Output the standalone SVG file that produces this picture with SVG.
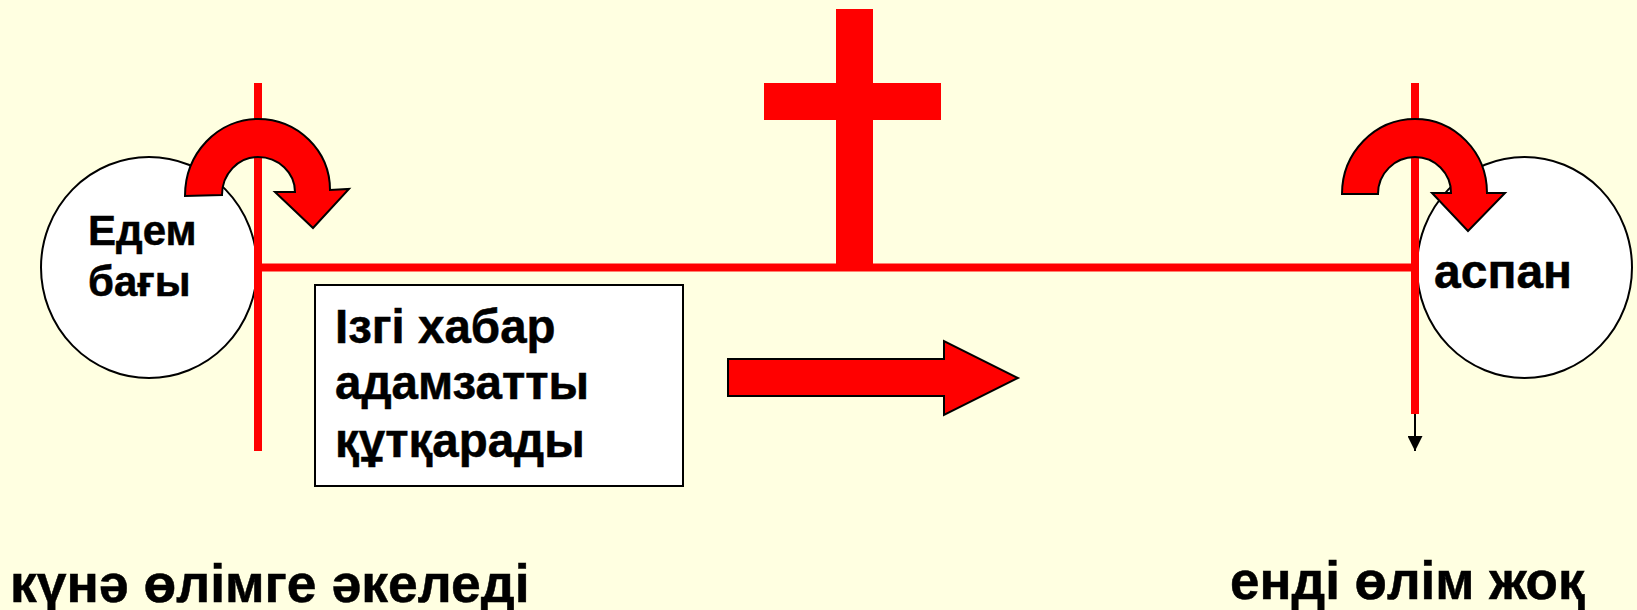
<svg xmlns="http://www.w3.org/2000/svg" width="1637" height="610" viewBox="0 0 1637 610">
<style>
.t{font-family:"Liberation Sans",Arial,sans-serif;font-weight:700;fill:#000;stroke:#000;stroke-width:.5}
.c{fill:#fff;stroke:#000;stroke-width:2}
.a{fill:#f00;stroke:#000;stroke-width:2;stroke-linejoin:miter}
.r{fill:#f00}
</style>
<defs><marker id="h" markerWidth="16" markerHeight="15" refX="15" refY="7.5" orient="auto" markerUnits="userSpaceOnUse"><path d="M0 0L15 7.5L0 15Z" fill="#000"/></marker></defs>
<rect width="1637" height="610" fill="#ffffe1"/>
<g id="eden"><ellipse class="c" cx="149" cy="267.500" rx="108" ry="110.500"/>
<text class="t" x="88" y="245" font-size="42">Едем</text><text class="t" x="88" y="296" font-size="42">бағы</text></g>
<g id="heaven"><ellipse class="c" cx="1524.500" cy="267.500" rx="107.500" ry="110.500"/>
<text class="t" x="1434" y="288" font-size="48">аспан</text></g>
<g id="connectors">
<rect class="r" x="254" y="83" width="8" height="368"/>
<rect class="r" x="1411" y="83" width="8" height="331"/>
<rect class="r" x="258" y="263.500" width="1157" height="8"/>
<path d="M1415 414V451" stroke="#000" stroke-width="2" fill="none" marker-end="url(#h)"/>
</g>
<g id="cross"><rect class="r" x="836" y="9" width="37" height="256"/><rect class="r" x="764" y="83" width="177" height="37"/></g>
<g id="left-turn"><path class="a" d="M185 196A73 77 0 0 1 258 119A72 71 0 0 1 330 190L349 189L313 228L275 192L295 192A37 35 0 0 0 258 157A36 38 0 0 0 222 195Z"/></g>
<g id="right-turn"><path class="a" d="M1342 194A73 75 0 0 1 1415 119A72 74 0 0 1 1487 193L1505 193L1468 231L1432 193L1451 193A36 36 0 0 0 1415 157A37 37 0 0 0 1378 194Z"/></g>
<g id="message"><rect x="315" y="285" width="368" height="201" fill="#fff" stroke="#000" stroke-width="2"/>
<text class="t" x="335" y="343" font-size="47.500">Ізгі хабар</text><text class="t" x="335" y="399" font-size="47.500">адамзатты</text><text class="t" x="335" y="457" font-size="47.500">құтқарады</text></g>
<g id="forward"><path class="a" d="M728 359H944V341L1018 378L944 415V396H728Z"/></g>
<text class="t" x="10" y="602" font-size="53.500">күнә өлімге әкеледі</text>
<text class="t" x="1230" y="599" font-size="53">енді өлім жоқ</text>
</svg>
